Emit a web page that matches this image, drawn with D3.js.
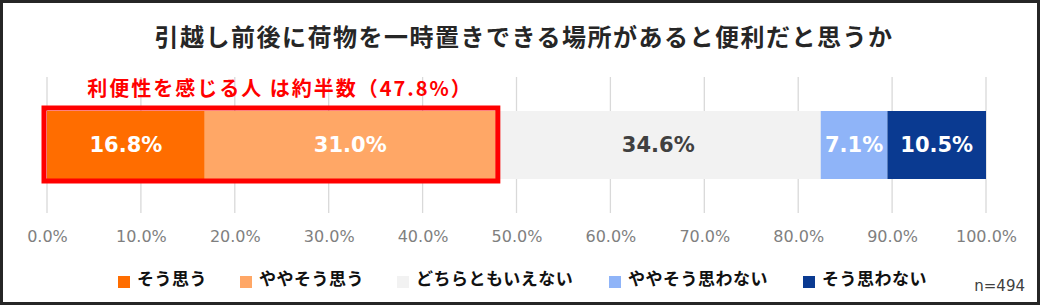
<!DOCTYPE html>
<html>
<head>
<meta charset="utf-8">
<title>引越し前後の荷物一時置き場</title>
<script src="https://d3js.org/d3.v7.min.js"></script>
<style>
  body { margin: 0; background: #fff; }
  text { font-family: "Noto Sans CJK JP", "Noto Sans", sans-serif; }
</style>
</head>
<body>
<script>
var categories = ["そう思う", "ややそう思う", "どちらともいえない", "ややそう思わない", "そう思わない"];
var values = [16.8, 31.0, 34.6, 7.1, 10.5];
var colors = ["#ff6d00", "#ffa766", "#f2f2f2", "#8fb4f8", "#0a3a91"];
var labelColors = ["#fff", "#fff", "#404040", "#fff", "#fff"];
var ticks = [0, 10, 20, 30, 40, 50, 60, 70, 80, 90, 100];

var W = 1042, H = 307;
var numFont = "'DejaVu Sans', Verdana, sans-serif";

var svg = d3.select("body").append("svg")
  .attr("width", W)
  .attr("height", H);

svg.append("rect")
  .attr("x", 1.5).attr("y", 1.5)
  .attr("width", 1037).attr("height", 302)
  .attr("fill", "#fff")
  .attr("stroke", "#262626")
  .attr("stroke-width", 3);

svg.append("text")
  .attr("x", 524).attr("y", 46)
  .attr("text-anchor", "middle")
  .attr("font-size", 24)
  .attr("letter-spacing", 1.5)
  .attr("font-weight", "bold")
  .attr("fill", "#262626")
  .text("引越し前後に荷物を一時置きできる場所があると便利だと思うか");

var x = d3.scaleLinear().domain([0, 100]).range([47, 986]);

// grid lines
svg.selectAll(".grid")
  .data(ticks)
  .enter().append("line")
  .attr("x1", function(d) { return x(d); })
  .attr("x2", function(d) { return x(d); })
  .attr("y1", 77).attr("y2", 213)
  .attr("stroke", "#d9d9d9")
  .attr("stroke-width", 1.3);

// stacked bar
var starts = [];
var acc = 0;
values.forEach(function(v) { starts.push(acc); acc += v; });

var bar = svg.append("g");
bar.selectAll("rect")
  .data(values)
  .enter().append("rect")
  .attr("x", function(d, i) { return x(starts[i]); })
  .attr("width", function(d) { return x(d) - x(0); })
  .attr("y", 111).attr("height", 68)
  .attr("fill", function(d, i) { return colors[i]; });

bar.selectAll("text")
  .data(values)
  .enter().append("text")
  .attr("x", function(d, i) { return x(starts[i] + d / 2); })
  .attr("y", 152)
  .attr("text-anchor", "middle")
  .attr("font-size", 21)
  .attr("font-weight", "bold")
  .attr("fill", function(d, i) { return labelColors[i]; })
  .style("font-family", numFont)
  .text(function(d) { return d.toFixed(1) + "%"; });

// highlight box around positive answers
var posTotal = values[0] + values[1];
svg.append("rect")
  .attr("x", x(0) - 3).attr("y", 108)
  .attr("width", x(posTotal) - x(0) + 5).attr("height", 73)
  .attr("fill", "none")
  .attr("stroke", "#ff0000")
  .attr("stroke-width", 5);

svg.append("text")
  .attr("x", 280).attr("y", 96)
  .attr("text-anchor", "middle")
  .attr("font-size", 20)
  .attr("letter-spacing", 2)
  .attr("font-weight", "bold")
  .attr("fill", "#ff0000")
  .text("利便性を感じる人 は約半数（" + posTotal.toFixed(1) + "%）");

// axis labels
svg.append("g")
  .attr("transform", "translate(0,213)")
  .call(d3.axisBottom(x).tickValues(ticks).tickSize(0).tickPadding(0)
    .tickFormat(function(d) { return d.toFixed(1) + "%"; }))
  .call(function(g) {
    g.select(".domain").remove();
    g.selectAll("text")
      .attr("dy", null)
      .attr("y", 29)
      .attr("font-size", 16)
      .attr("fill", "#7f7f7f")
      .style("font-family", numFont);
  });

// legend
var legendX = [118, 240, 397, 609, 803];
var legend = svg.selectAll(".legend")
  .data(categories)
  .enter().append("g")
  .attr("transform", function(d, i) { return "translate(" + legendX[i] + ",0)"; });

legend.append("rect")
  .attr("width", 12).attr("height", 12)
  .attr("y", 276)
  .attr("fill", function(d, i) { return colors[i]; });

legend.append("text")
  .attr("x", 19).attr("y", 285)
  .attr("font-size", 17)
  .attr("letter-spacing", 0.5)
  .attr("font-weight", "bold")
  .attr("fill", "#111")
  .text(function(d) { return d; });

svg.append("text")
  .attr("x", 1025).attr("y", 291)
  .attr("text-anchor", "end")
  .attr("font-size", 15)
  .attr("fill", "#404040")
  .style("font-family", numFont)
  .text("n=494");
</script>
</body>
</html>
